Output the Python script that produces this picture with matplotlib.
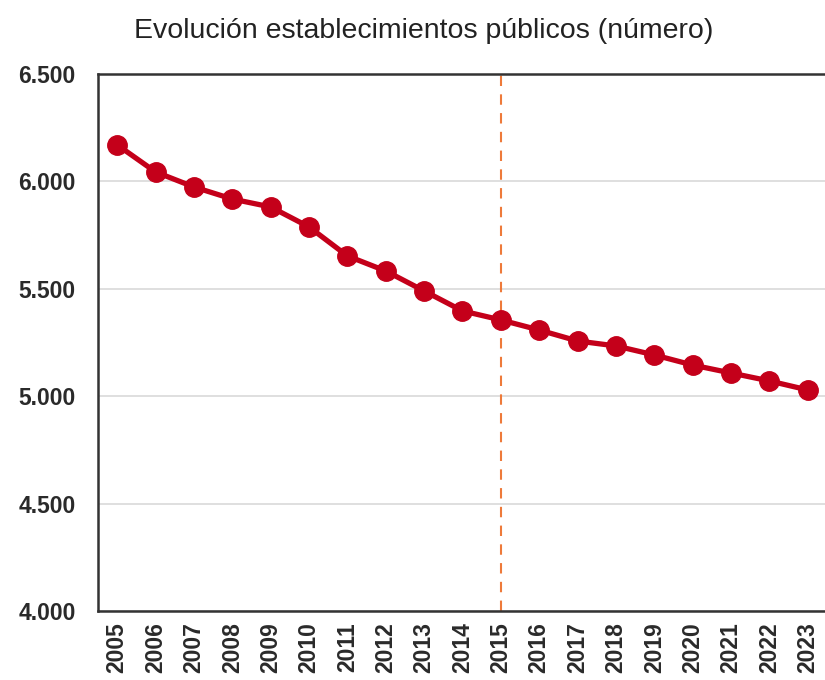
import matplotlib
matplotlib.use("Agg")
import matplotlib.pyplot as plt
from matplotlib.ticker import FuncFormatter

years = [str(y) for y in range(2005, 2024)]
values = [6170, 6044, 5974, 5918, 5881, 5788, 5653, 5583, 5490, 5397,
          5355, 5308, 5257, 5234, 5192, 5145, 5108, 5071, 5029]
yticks = [4000, 4500, 5000, 5500, 6000, 6500]
marker_year = "2015"
title = "Evolución establecimientos públicos (número)"

plt.rcParams['font.family'] = ['Liberation Sans', 'DejaVu Sans']

fig = plt.figure(figsize=(8.25, 6.8), dpi=100)
ax = fig.add_axes([98/825, 1-611/680, (827-98)/825, (611-74)/680])

x = list(range(len(years)))
ax.plot(x, values, color="#C4001A", lw=3.8, marker="o", ms=14, zorder=3)
ax.axvline(years.index(marker_year), color="#EE7A3A", lw=1.5, ls=(0, (5, 4)), zorder=2)

ax.set_xlim(-0.5, len(years) - 0.5)
ax.set_ylim(yticks[0], yticks[-1])
ax.set_yticks(yticks)
ax.yaxis.set_major_formatter(FuncFormatter(lambda v, p: f"{int(v):,}".replace(",", ".")))
ax.set_xticks(x)
ax.set_xticklabels(years, rotation=90)
ax.grid(axis="y", color="#D9D9D9", lw=1.2)
ax.set_axisbelow(True)
ax.tick_params(length=0, labelsize=16.5, colors="#2a2a2a")
ax.tick_params(axis="y", pad=16)
ax.tick_params(axis="x", pad=8)
for lab in ax.get_xticklabels() + ax.get_yticklabels():
    lab.set_fontweight("semibold")
for s in ["left", "top", "bottom", "right"]:
    ax.spines[s].set_color("#333333")
    ax.spines[s].set_linewidth(1.8)

fig.text(424/825, 1-31/680, title, ha="center", va="center", fontsize=20.5, color="#222222")

fig.savefig("out.png", dpi=100)
